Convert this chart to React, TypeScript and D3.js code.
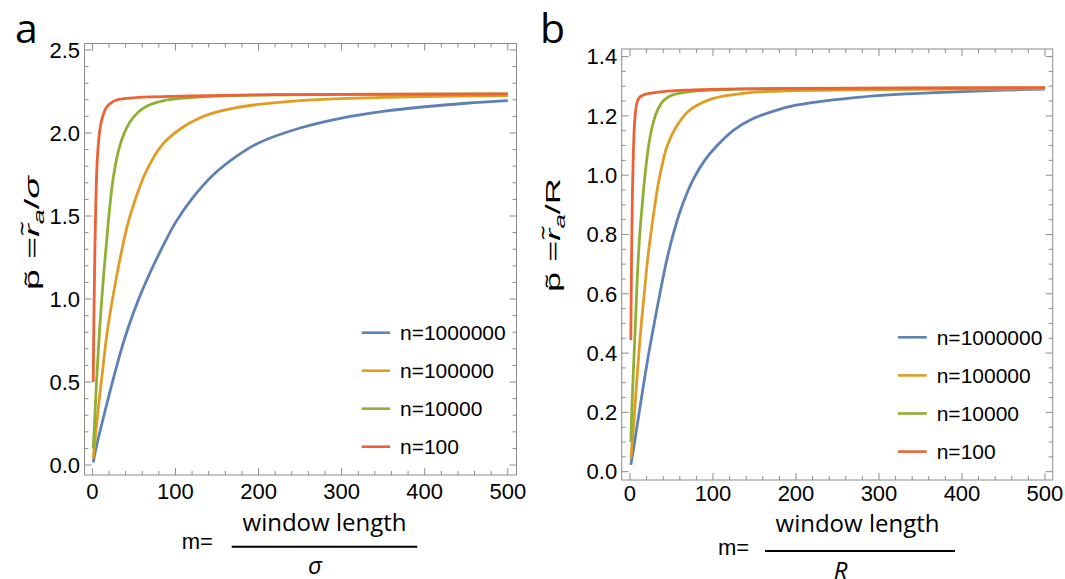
import { useEffect, useRef } from 'react';
import * as d3 from 'd3';

type Pt = [number, number];

const legendLabels = ['n=1000000', 'n=100000', 'n=10000', 'n=100'];
const lineColors = ['#5e81b5', '#e19c24', '#8fb032', '#eb6235'];

const xTickValues = [0, 100, 200, 300, 400, 500];
const yTickValuesSigma = [0, 0.5, 1.0, 1.5, 2.0, 2.5];
const yTickValuesR = [0, 0.2, 0.4, 0.6, 0.8, 1.0, 1.2, 1.4];

// panel a: p = r_a / sigma, [m, p]
const sigmaN1000000: Pt[] = [
  [1, 0.016], [5, 0.115], [10, 0.22], [20, 0.42], [30, 0.61], [40, 0.78], [50, 0.925],
  [62, 1.075], [80, 1.27], [100, 1.46], [120, 1.605], [146, 1.75], [175, 1.865], [200, 1.94],
  [250, 2.03], [300, 2.09], [350, 2.13], [400, 2.158], [450, 2.179], [500, 2.195],
];
const sigmaN100000: Pt[] = [
  [1, 0.04], [4.3, 0.21], [8.6, 0.41], [13, 0.6], [17, 0.77], [21.5, 0.92], [26.7, 1.07],
  [34.4, 1.27], [43, 1.46], [52, 1.605], [63, 1.75], [75, 1.865], [86, 1.94], [107.5, 2.03],
  [129, 2.09], [150, 2.127], [172, 2.152], [200, 2.172], [250, 2.195], [300, 2.207],
  [400, 2.219], [500, 2.225],
];
const sigmaN10000: Pt[] = [
  [1, 0.1], [2, 0.2], [3, 0.3], [5, 0.5], [7, 0.68], [9, 0.84], [11, 0.98], [13, 1.11],
  [15, 1.23], [17, 1.34], [20, 1.51], [24, 1.69], [28, 1.815], [32, 1.905], [38, 1.995],
  [45, 2.065], [55, 2.125], [66, 2.163], [86, 2.195], [110, 2.21], [150, 2.222], [200, 2.228],
  [300, 2.232], [500, 2.235],
];
const sigmaN100: Pt[] = [
  [1, 0.5], [2, 0.95], [3, 1.3], [4, 1.55], [5, 1.73], [6, 1.85], [8, 1.98], [10, 2.05],
  [13, 2.11], [17, 2.155], [22, 2.18], [30, 2.2], [45, 2.21], [70, 2.217], [120, 2.223],
  [200, 2.23], [300, 2.232], [500, 2.235],
];

// panel b: p = r_a / R
const rN1000000: Pt[] = [
  [1, 0.023], [5, 0.09], [8.4, 0.152], [15, 0.27], [22, 0.39], [28.5, 0.49], [36, 0.6],
  [44, 0.71], [52, 0.8], [60, 0.875], [68, 0.935], [77, 0.99], [90, 1.05], [105, 1.1],
  [125, 1.152], [146, 1.188], [175, 1.218], [200, 1.236], [265, 1.26], [333, 1.274],
  [400, 1.282], [450, 1.287], [500, 1.29],
];
const rN100000: Pt[] = [
  [1, 0.045], [5, 0.18], [8, 0.3], [11, 0.41], [14, 0.51], [17.5, 0.61], [21, 0.71],
  [25, 0.8], [29, 0.88], [34, 0.97], [40, 1.05], [45, 1.1], [55, 1.16], [70, 1.215],
  [95, 1.254], [123, 1.271], [150, 1.28], [200, 1.285], [300, 1.289], [500, 1.292],
];
const rN10000: Pt[] = [
  [1, 0.1], [2, 0.19], [3.2, 0.28], [5, 0.4], [6.4, 0.49], [8, 0.6], [9.6, 0.7], [12, 0.81],
  [14.4, 0.89], [17.7, 0.99], [22.5, 1.1], [26.5, 1.16], [32.5, 1.215], [40.5, 1.252],
  [50.6, 1.27], [70, 1.281], [95, 1.287], [131, 1.29], [200, 1.292], [300, 1.293], [500, 1.294],
];
const rN100: Pt[] = [
  [1, 0.444], [2, 0.75], [3, 0.95], [4, 1.07], [5, 1.15], [6, 1.195], [8, 1.24], [10, 1.256],
  [12, 1.264], [16, 1.27], [20, 1.274], [40, 1.282], [70, 1.287], [110, 1.29], [200, 1.293],
  [500, 1.295],
];

const panels = [
  {
    key: 'a', letterX: 15, letterY: 43,
    frame: { left: 84.5, right: 516.5, top: 43.5, bottom: 475 },
    xDomain: [-9.5, 510.5], yDomain: [-0.06, 2.539],
    yTicks: yTickValuesSigma, yMinorStep: 0.1,
    series: [sigmaN1000000, sigmaN100000, sigmaN10000, sigmaN100],
    legend: { x1: 361.7, x2: 390, tx: 400, y: 332.7, gap: 38 },
    xLabelY: 499,
    yLabel: { x: 39, y: 233, denom: 'σ', italic: true },
    title: { mX: 181.7, mY: 548.5, fracX: 324.5, fracY: 531, barX1: 231.7, barX2: 417.3, barY: 546.7, denX: 315, denY: 573.5, den: 'σ' },
  },
  {
    key: 'b', letterX: 540, letterY: 43,
    frame: { left: 621.7, right: 1052.7, top: 49, bottom: 480 },
    xDomain: [-10, 509.3], yDomain: [-0.028, 1.4256],
    yTicks: yTickValuesR, yMinorStep: 0.05,
    series: [rN1000000, rN100000, rN10000, rN100],
    legend: { x1: 898, x2: 926.7, tx: 936.7, y: 337.3, gap: 38.1 },
    xLabelY: 501,
    yLabel: { x: 560, y: 235, denom: 'R', italic: false },
    title: { mX: 718, mY: 555, fracX: 857.5, fracY: 531.5, barX1: 765, barX2: 955, barY: 551, denX: 840.5, denY: 578.5, den: 'R' },
  },
];

const tickColor = '#8c8c8c';
const sans = '"Liberation Sans", Arial, sans-serif';
const open = '"Open Sans", sans-serif';

const App = () => {
  const ref = useRef<SVGSVGElement>(null);

  useEffect(() => {
    const svg = d3.select(ref.current);
    svg.selectAll('*').remove();

    panels.forEach(p => {
      const f = p.frame;
      const x = d3.scaleLinear().domain(p.xDomain).range([f.left, f.right]);
      const y = d3.scaleLinear().domain(p.yDomain).range([f.bottom, f.top]);
      const g = svg.append('g');

      // panel letter
      g.append('text')
        .attr('x', p.letterX).attr('y', p.letterY)
        .attr('font-family', open).attr('font-size', 41)
        .text(p.key);

      // frame
      g.append('rect')
        .attr('x', f.left).attr('y', f.top)
        .attr('width', f.right - f.left).attr('height', f.bottom - f.top)
        .attr('fill', 'none').attr('stroke', tickColor).attr('stroke-width', 1);

      // x ticks on bottom and top
      const xMinor = d3.range(0, 501, 20);
      xMinor.forEach(v => {
        const len = xTickValues.includes(v) ? 7 : 4;
        g.append('line').attr('x1', x(v)).attr('x2', x(v)).attr('y1', f.bottom).attr('y2', f.bottom - len)
          .attr('stroke', tickColor);
        g.append('line').attr('x1', x(v)).attr('x2', x(v)).attr('y1', f.top).attr('y2', f.top + len)
          .attr('stroke', tickColor);
      });
      g.selectAll('.xl').data(xTickValues).enter().append('text')
        .attr('x', d => x(d)).attr('y', p.xLabelY)
        .attr('text-anchor', 'middle')
        .attr('font-family', sans).attr('font-size', 22)
        .text(d => String(d));

      // y ticks on left and right
      const yMax = p.yTicks[p.yTicks.length - 1];
      const yMinor = d3.range(0, yMax + 1e-9, p.yMinorStep);
      yMinor.forEach(v => {
        const major = p.yTicks.some(t => Math.abs(t - v) < 1e-6);
        const len = major ? 7 : 4;
        g.append('line').attr('x1', f.left).attr('x2', f.left + len).attr('y1', y(v)).attr('y2', y(v))
          .attr('stroke', tickColor);
        g.append('line').attr('x1', f.right).attr('x2', f.right - len).attr('y1', y(v)).attr('y2', y(v))
          .attr('stroke', tickColor);
      });
      g.selectAll('.yl').data(p.yTicks).enter().append('text')
        .attr('x', f.left - 4.5).attr('y', d => y(d) + 7.8)
        .attr('text-anchor', 'end')
        .attr('font-family', sans).attr('font-size', 22)
        .text(d => d3.format('.1f')(d));

      // curves
      const line = d3.line<Pt>()
        .x(d => x(d[0]))
        .y(d => y(d[1]))
        .curve(d3.curveCatmullRom.alpha(0.5));
      p.series.forEach((s, i) => {
        g.append('path').datum(s)
          .attr('d', line)
          .attr('fill', 'none')
          .attr('stroke', lineColors[i])
          .attr('stroke-width', 2.8)
          .attr('stroke-linejoin', 'round');
      });

      // legend
      legendLabels.forEach((lab, i) => {
        const ly = p.legend.y + i * p.legend.gap;
        g.append('line').attr('x1', p.legend.x1).attr('x2', p.legend.x2).attr('y1', ly).attr('y2', ly)
          .attr('stroke', lineColors[i]).attr('stroke-width', 2.6);
        g.append('text').attr('x', p.legend.tx).attr('y', ly + 7.5)
          .attr('font-family', sans).attr('font-size', 21)
          .text(lab);
      });

      // y axis label, stretched along its length as in the figure
      const yl = g.append('text')
        .attr('transform', `translate(${p.yLabel.x},${p.yLabel.y}) rotate(-90)`)
        .attr('text-anchor', 'middle')
        .attr('font-family', sans).attr('font-size', 21)
        .attr('textLength', 114).attr('lengthAdjust', 'spacingAndGlyphs');
      yl.append('tspan').text('p\u0303 =');
      yl.append('tspan').attr('font-style', 'italic').text('r\u0303');
      yl.append('tspan').attr('font-style', 'italic').attr('font-size', 15).attr('dy', 5).text('a');
      yl.append('tspan').attr('dy', -5).text('/');
      yl.append('tspan').attr('font-style', p.yLabel.italic ? 'italic' : 'normal').text(p.yLabel.denom);

      // x axis title: m = window length / sigma
      const t = p.title;
      g.append('text').attr('x', t.mX).attr('y', t.mY)
        .attr('font-family', sans).attr('font-size', 22).text('m=');
      g.append('text').attr('x', t.fracX).attr('y', t.fracY)
        .attr('text-anchor', 'middle')
        .attr('font-family', open).attr('font-size', 24).text('window length');
      g.append('line').attr('x1', t.barX1).attr('x2', t.barX2).attr('y1', t.barY).attr('y2', t.barY)
        .attr('stroke', '#000').attr('stroke-width', 2);
      g.append('text').attr('x', t.denX).attr('y', t.denY)
        .attr('text-anchor', 'middle')
        .attr('font-family', open).attr('font-style', 'italic').attr('font-size', 24).text(t.den);
    });
  }, []);

  return (
    <svg ref={ref} width={1065} height={579}
      style={{ position: 'absolute', left: 0, top: 0, background: '#fff' }} />
  );
};

export default App;
